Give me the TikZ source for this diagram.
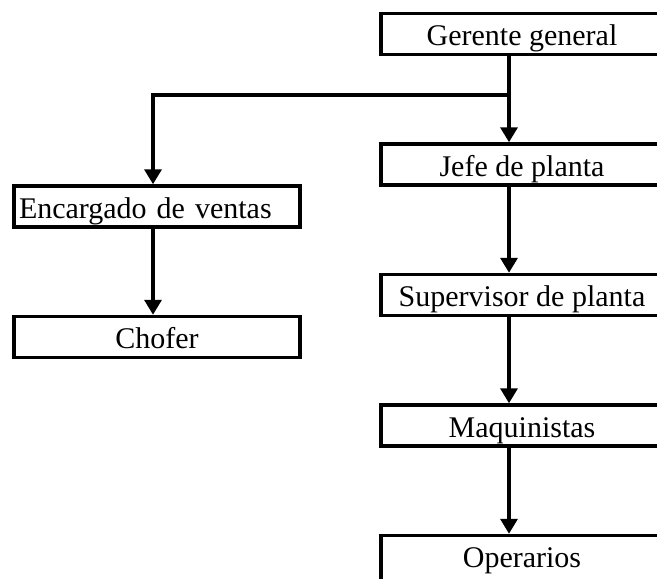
\documentclass[tikz,border=0pt]{standalone}
\usepackage{fontspec}
\setmainfont{Liberation Serif}
\usetikzlibrary{positioning,arrows.meta}

\begin{document}
\begin{tikzpicture}[x=0.5pt, y=-0.5pt, node distance=43pt,
                    orgbox/.style={draw, line width=1.75pt, minimum width=141pt,
                      inner sep=0pt, text height=16pt, text depth=4.5pt,
                      font=\fontsize{15pt}{18pt}\selectfont},
                    link/.style={line width=1.75pt,
                      -{Triangle[length=7.5pt,width=8.5pt]}}]
\useasboundingbox (0,0) rectangle (657,578);
\clip (0,0) rectangle (657,578);
% right column
\node[orgbox] (gerente) at (522,34) {Gerente general};
\node[orgbox, below=of gerente] (jefe) {Jefe de planta};
\node[orgbox, below=of jefe] (supervisor) {Supervisor de planta};
\node[orgbox, below=of supervisor] (maquinistas) {Maquinistas};
\node[orgbox, below=of maquinistas, text depth=12pt] (operarios) {Operarios};
% left column
\node[orgbox, minimum width=143pt, text width=138pt, inner xsep=2.5pt,
      align=left] (encargado) at (157,206.5) {Encargado de ventas};
\node[orgbox, minimum width=143pt, below=of encargado] (chofer) {Chofer};
% connectors
\coordinate (fork) at (509,95);
\coordinate (bend) at (153,95);
\draw[link] (gerente.south -| fork) -- (jefe.north -| fork);
\draw[link] (fork) -- (bend) -- (bend |- encargado.north);
\draw[link] (jefe.south -| fork) -- (supervisor.north -| fork);
\draw[link] (supervisor.south -| fork) -- (maquinistas.north -| fork);
\draw[link] (maquinistas.south -| fork) -- (operarios.north -| fork);
\draw[link] (encargado.south -| bend) -- (chofer.north -| bend);
\end{tikzpicture}
\end{document}
